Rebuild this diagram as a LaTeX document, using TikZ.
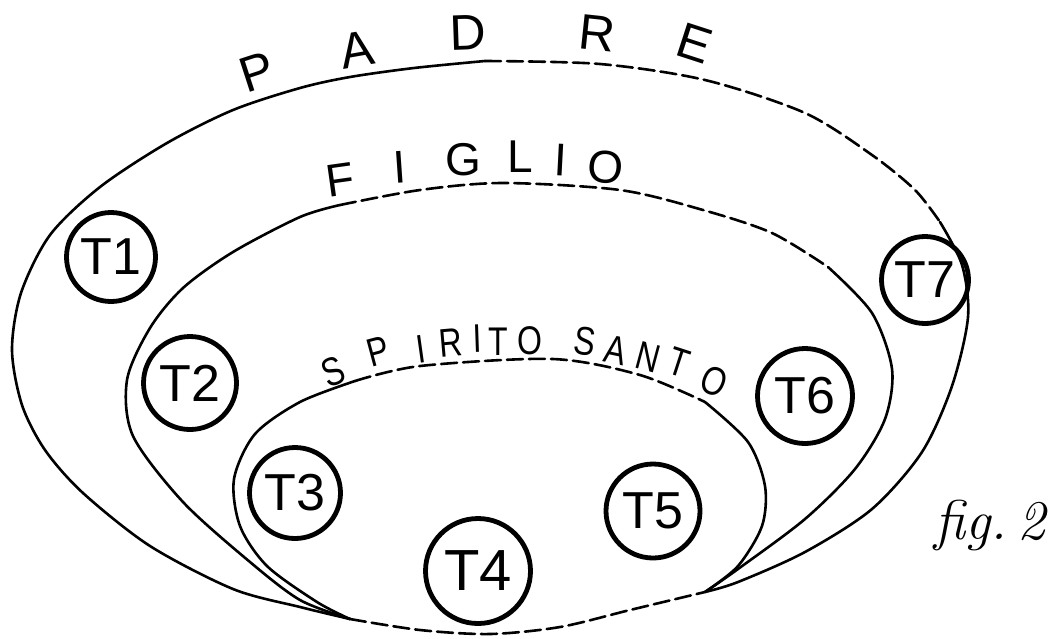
\documentclass[tikz,border=0pt]{standalone}
\usepackage{fontspec}
\setsansfont{Liberation Sans}
\usetikzlibrary{calc}
\begin{document}
\begin{tikzpicture}[x=.5pt,y=-.5pt,line cap=round,line join=round,
ring/.style={draw,circle,line width=2.4pt,inner sep=0pt,font=\sffamily\fontsize{26}{26}\selectfont},
glyph/.style={inner sep=0pt,font=\sffamily\fontsize{25}{25}\selectfont},
rim/.style={line width=1.3pt},
dashrim/.style={line width=1.3pt,dash pattern=on 8pt off 3pt}]
\useasboundingbox(0,0)rectangle(1058,638);
\draw[rim]plot[smooth]coordinates{(485,61)(414,68)(350,77)(300,88)(233,110)(167,143)(100,187)(50,235)(21,293)(12,350)(22,405)(45,450)(83,493)(150,546)(233,589)(300,607)(350,619)};
\draw[dashrim]plot[smooth]coordinates{(485,61)(600,64)(705,80)(805,113)(872,155)(915,190)(940,222)};
\draw[rim]plot[smooth]coordinates{(940,222)(962,265)(968,317)(952,386)(922,452)(872,509)(805,552)(738,582)(705,592)};
\draw[rim]plot[smooth]coordinates{(340,205)(300,217)(233,252)(183,288)(150,328)(127,380)(133,436)(183,502)(250,562)(300,600)(350,619)};
\draw[dashrim]plot[smooth]coordinates{(340,205)(420,190)(503,183)(620,190)(703,210)(772,233)(828,267)};
\draw[rim]plot[smooth]coordinates{(828,267)(872,313)(892,369)(885,419)(855,469)(805,519)(738,569)(705,592)};
\draw[rim]plot[smooth]coordinates{(355,381)(300,402)(255,434)(234,479)(240,526)(267,566)(317,602)(350,619)};
\draw[dashrim]plot[smooth]coordinates{(355,381)(420,366)(553,359)(640,375)(705,402)};
\draw[rim]plot[smooth]coordinates{(705,402)(748,442)(765,486)(762,526)(738,566)(705,592)};
\draw[dashrim]plot[smooth]coordinates{(350,619)(420,630)(490,634)(560,627)(630,610)(705,592)};
\foreach \c/\x/\y/\r [count=\i] in {P/257/72/18,A/357/50/10,D/468/33/2,R/597/33/-6,E/695/43/-18}
  \node[glyph,rotate=\r](padre\i)at(\x,\y){\c};
\foreach \c/\x/\y/\r [count=\i] in {F/340/180/8,I/400/167/4,G/463/160/0,L/520/157/0,I/561/160/-3,O/606/167/-5}
  \node[glyph,font=\sffamily\fontsize{23}{23}\selectfont,rotate=\r](figlio\i)at(\x,\y){\c};
\foreach \c/\x/\y/\r [count=\i] in {S/333/372/22,P/378/351/15,I/421/349/8,R/451/343/5,I/477/339/2,T/498/342/0,O/530/341/0,S/585/341/-8,A/616/350/-12,N/648/357/-15,T/679/362/-18,O/714/381/-22}
  \node[glyph,font=\sffamily\fontsize{20}{20}\selectfont,rotate=\r,xscale=.8](spirito\i)at(\x,\y){\c};
\node[ring,minimum size=44.5pt](t1)at(111,257){T1};
\node[ring,minimum size=46.5pt](t2)at(190,383){T2};
\node[ring,minimum size=45.5pt](t3)at(295,493){T3};
\node[ring,minimum size=52.5pt,font=\sffamily\fontsize{29}{29}\selectfont](t4)at(478,571){T4};
\node[ring,minimum size=47pt](t5)at(653,511){T5};
\node[ring,minimum size=47.5pt](t6)at(805,396){T6};
\node[ring,minimum size=43.5pt](t7)at(925,280){T7};
\node[font=\itshape\fontsize{28}{28}\selectfont](fig)at(990,525){fig.\,2};
\end{tikzpicture}
\end{document}
